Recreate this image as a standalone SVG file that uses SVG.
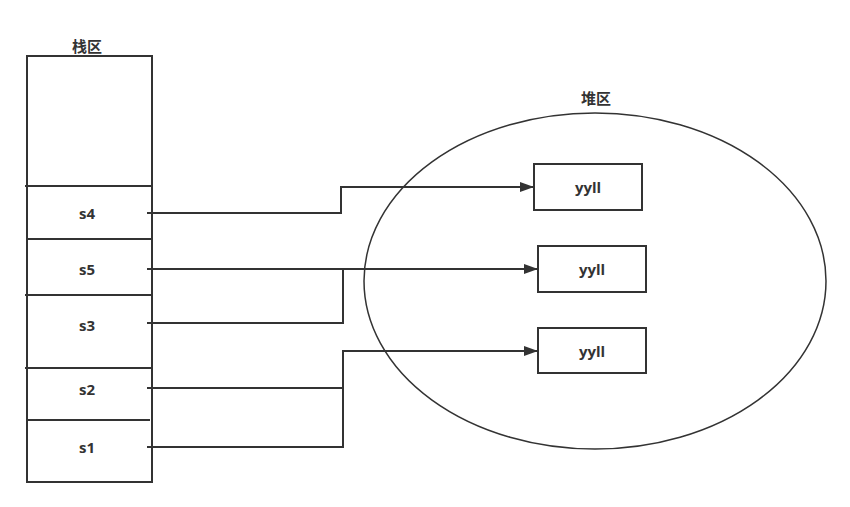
<svg xmlns="http://www.w3.org/2000/svg" width="850" height="507" viewBox="0 0 850 507">
<style>
.s{fill:none;stroke:#333;stroke-width:2}
.t{font-family:"Open Sans","Noto Sans CJK SC",sans-serif;font-weight:bold;font-size:15px;fill:#333;text-anchor:middle;dominant-baseline:central}
.c{font-family:"Noto Sans CJK SC",sans-serif;font-weight:bold;font-size:15px;fill:#333;text-anchor:middle;dominant-baseline:central}
.w{fill:#fff;stroke:#333;stroke-width:2}
</style>
<defs>
<marker id="a" viewBox="0 0 14 10" refX="14" refY="5" markerWidth="14" markerHeight="10" markerUnits="userSpaceOnUse" orient="auto"><path d="M0,0 L14,5 L0,10 Z" fill="#333"/></marker>
</defs>
<rect width="850" height="507" fill="#fff"/>
<g id="heap">
<ellipse cx="595" cy="281" rx="231" ry="168" fill="none" stroke="#333" stroke-width="1.5"/>
<text class="c" x="596" y="97">堆区</text>
</g>
<g id="stack">
<text class="c" x="87" y="45">栈区</text>
<rect class="s" x="27" y="56" width="125" height="426"/>
<line class="s" x1="25" y1="186" x2="152" y2="186"/>
<line class="s" x1="27" y1="239" x2="152" y2="239"/>
<line class="s" x1="25" y1="295" x2="152" y2="295"/>
<line class="s" x1="25" y1="368" x2="152" y2="368"/>
<line class="s" x1="27" y1="420" x2="150" y2="420"/>
</g>
<g id="s4"><text class="t" x="87" y="213">s4</text></g>
<g id="s5"><text class="t" x="87" y="269">s5</text></g>
<g id="s3"><text class="t" x="87" y="325">s3</text></g>
<g id="s2"><text class="t" x="87" y="389">s2</text></g>
<g id="s1"><text class="t" x="87" y="447">s1</text></g>
<g id="box1"><rect class="w" x="534" y="164" width="108" height="46"/><text class="t" x="588" y="187">yyll</text></g>
<g id="box2"><rect class="w" x="538" y="246" width="108" height="46"/><text class="t" x="592" y="269">yyll</text></g>
<g id="box3"><rect class="w" x="538" y="328" width="108" height="45"/><text class="t" x="592" y="351">yyll</text></g>
<g id="connectors">
<polyline class="s" points="147,213 341,213 341,187 534,187" marker-end="url(#a)"/>
<polyline class="s" points="147,269 538,269" marker-end="url(#a)"/>
<polyline class="s" points="147,323 343,323 343,269"/>
<polyline class="s" points="147,388 343,388 343,351 538,351" marker-end="url(#a)"/>
<polyline class="s" points="147,447 343,447 343,388"/>
</g>
</svg>
